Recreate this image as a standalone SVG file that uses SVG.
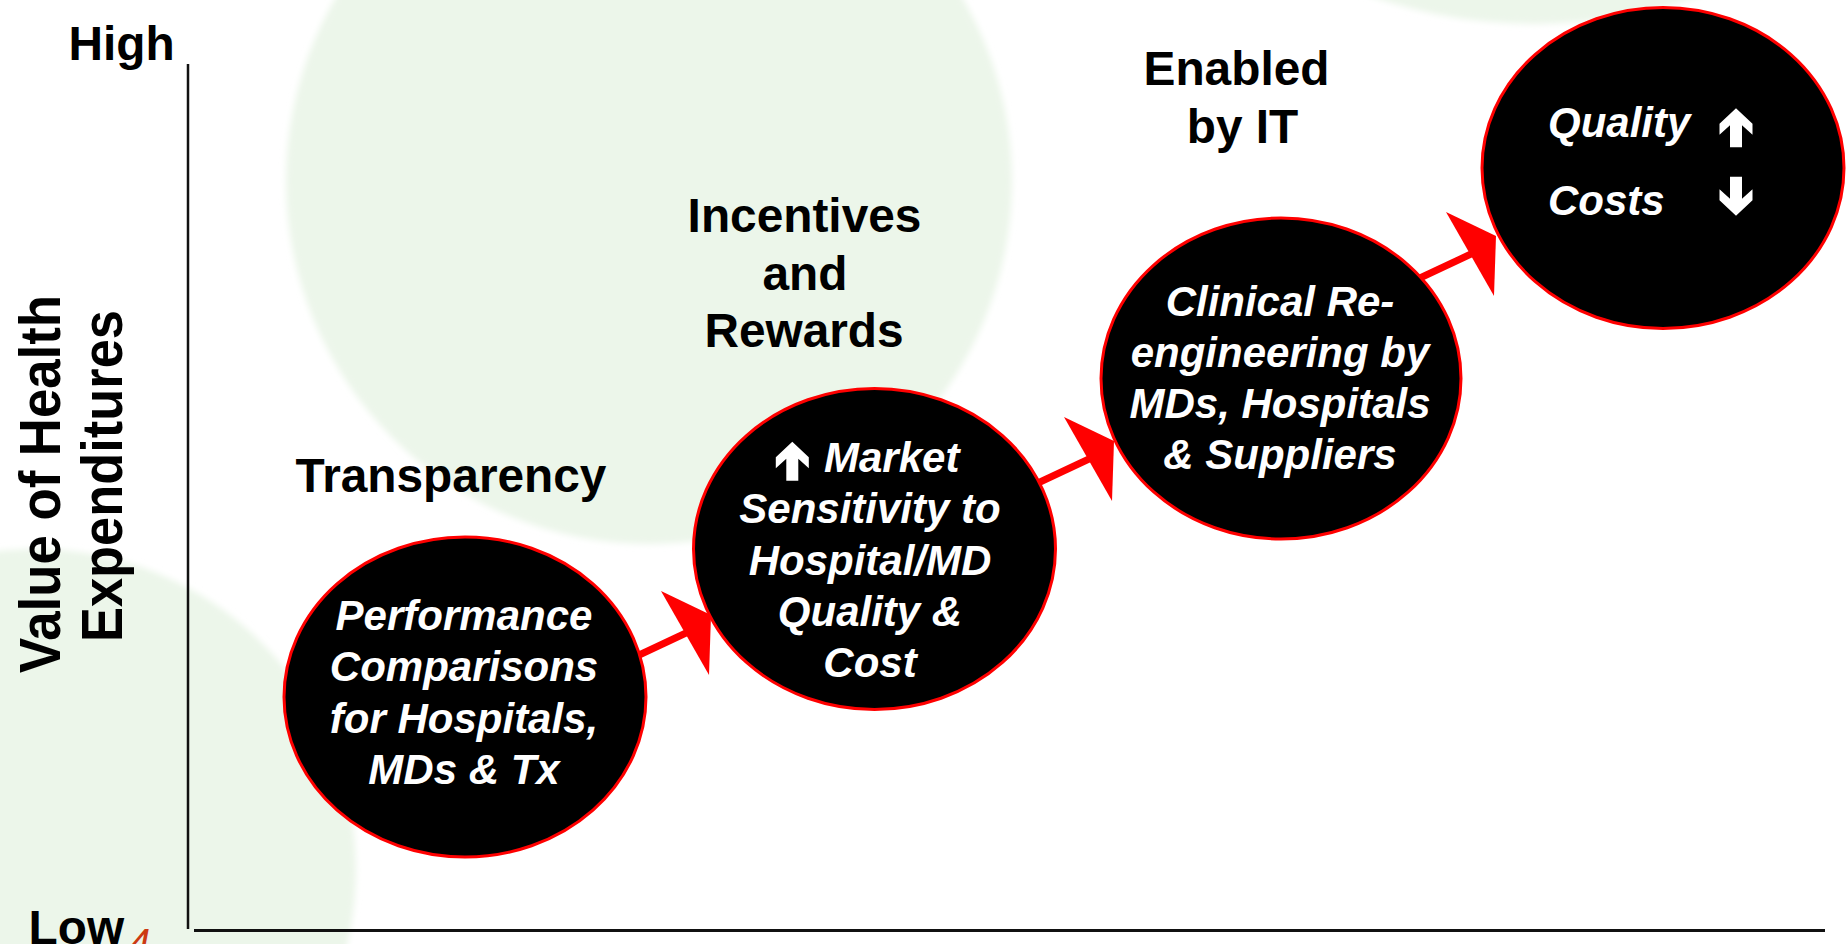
<svg xmlns="http://www.w3.org/2000/svg" xmlns:xlink="http://www.w3.org/1999/xlink" width="1847" height="944" viewBox="0 0 1847 944">
  <defs>
    <style>
      .bg { fill: #ECF6EA; }
      .node { fill: #000000; stroke: #FF0000; stroke-width: 3; }
      .ntext { font-family: "Liberation Sans", Arial, sans-serif; font-size: 42px; font-weight: bold; font-style: italic; fill: #FFFFFF; text-anchor: middle; }
      .label { font-family: "Liberation Sans", Arial, sans-serif; font-size: 47.8px; font-weight: bold; fill: #000000; text-anchor: middle; }
      .axislabel { font-family: "Liberation Sans", Arial, sans-serif; font-size: 58px; font-weight: bold; fill: #000000; }
      .axis { stroke: #111111; fill: none; }
      .conn-line { stroke: #FF0000; stroke-width: 7; fill: none; }
      .conn-head { fill: #FF0000; }
      .sym { fill: #FFFFFF; }
    </style>
    <filter id="soft" x="-10%" y="-10%" width="120%" height="120%">
      <feGaussianBlur stdDeviation="3"/>
    </filter>
    <path id="uparrow" d="M0,0 L16.5,15.5 L16.5,26.5 L6,17 L6,39 L-6,39 L-6,17 L-16.5,26.5 L-16.5,15.5 Z"/>
  </defs>

  <rect x="0" y="0" width="1847" height="944" fill="#FFFFFF"/>

  <g id="background" filter="url(#soft)">
    <circle class="bg" cx="649" cy="181" r="363"/>
    <circle class="bg" cx="35" cy="870" r="321"/>
    <circle class="bg" cx="1535" cy="-476" r="500"/>
  </g>

  <g id="axes">
    <line class="axis" x1="188" y1="64" x2="188" y2="929" stroke-width="2.5"/>
    <line class="axis" x1="194" y1="930.5" x2="1825" y2="930.5" stroke-width="3"/>
    <text class="label" x="68.5" y="60" style="text-anchor:start">High</text>
    <text class="label" x="28.5" y="944" style="text-anchor:start">Low</text>
    <text x="128" y="957" font-family="Liberation Sans, Arial, sans-serif" font-size="40" font-style="italic" fill="#CC3A12">4</text>
    <text class="axislabel" transform="translate(60,673) rotate(-90)" x="0" y="0" textLength="378" lengthAdjust="spacingAndGlyphs">Value of Health</text>
    <text class="axislabel" transform="translate(121.5,642) rotate(-90)" x="0" y="0" textLength="332" lengthAdjust="spacingAndGlyphs">Expenditures</text>
  </g>

  <g id="stage-labels">
    <text class="label" x="451" y="492">Transparency</text>
    <text class="label" x="804.5" y="232">Incentives</text>
    <text class="label" x="805" y="290">and</text>
    <text class="label" x="804" y="347">Rewards</text>
    <text class="label" x="1236.5" y="85">Enabled</text>
    <text class="label" x="1242.5" y="143">by IT</text>
  </g>

  <g id="connectors">
    <g id="conn-1-2">
      <line class="conn-line" x1="620" y1="664" x2="686" y2="633"/>
      <polygon class="conn-head" points="661,591 711,615 709,675"/>
    </g>
    <g id="conn-2-3">
      <line class="conn-line" x1="1023" y1="490" x2="1089" y2="459"/>
      <polygon class="conn-head" points="1064,417 1114,441 1112,501"/>
    </g>
    <g id="conn-3-4">
      <line class="conn-line" x1="1405" y1="285" x2="1471" y2="254"/>
      <polygon class="conn-head" points="1446,212 1496,236 1494,296"/>
    </g>
  </g>

  <g id="node-performance">
    <ellipse class="node" cx="465" cy="697" rx="181" ry="160"/>
    <text class="ntext" x="464" y="630">Performance</text>
    <text class="ntext" x="464" y="681.3">Comparisons</text>
    <text class="ntext" x="464" y="732.5">for Hospitals,</text>
    <text class="ntext" x="464" y="783.8">MDs &amp; Tx</text>
  </g>

  <g id="node-market">
    <ellipse class="node" cx="874.5" cy="549" rx="181" ry="160.5"/>
    <use xlink:href="#uparrow" href="#uparrow" class="sym" transform="translate(792.3,441.7)"/>
    <text class="ntext" x="824" y="472" style="text-anchor:start">Market</text>
    <text class="ntext" x="870" y="523.3">Sensitivity to</text>
    <text class="ntext" x="870" y="574.5">Hospital/MD</text>
    <text class="ntext" x="870" y="625.8">Quality &amp;</text>
    <text class="ntext" x="870" y="677">Cost</text>
  </g>

  <g id="node-clinical">
    <ellipse class="node" cx="1281" cy="378.5" rx="180" ry="160.5"/>
    <text class="ntext" x="1280" y="315.5">Clinical Re-</text>
    <text class="ntext" x="1280" y="366.5">engineering by</text>
    <text class="ntext" x="1280" y="417.5">MDs, Hospitals</text>
    <text class="ntext" x="1280" y="468.5">&amp; Suppliers</text>
  </g>

  <g id="node-outcome">
    <ellipse class="node" cx="1663" cy="168" rx="181" ry="160.5"/>
    <text class="ntext" x="1548" y="137" style="text-anchor:start">Quality</text>
    <text class="ntext" x="1548" y="215" style="text-anchor:start">Costs</text>
    <use xlink:href="#uparrow" href="#uparrow" class="sym" transform="translate(1736,108.3)"/>
    <use xlink:href="#uparrow" href="#uparrow" class="sym" transform="translate(1736,215.7) scale(1,-1)"/>
  </g>
</svg>
